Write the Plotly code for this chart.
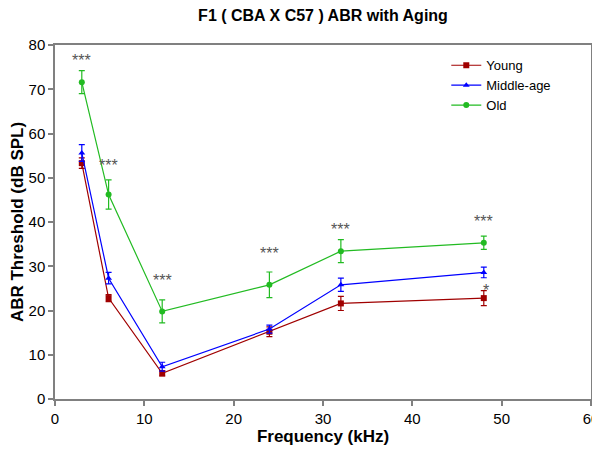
import plotly.graph_objects as go

freq = [3, 6, 12, 24, 32, 48]
young = [53.3, 22.8, 5.8, 15.2, 21.6, 22.8]
young_err = [1.2, 0.8, 0.6, 1.1, 1.6, 1.7]
middle = [55.6, 27.3, 7.3, 15.8, 25.8, 28.6]
middle_err = [1.9, 1.3, 1.0, 0.9, 1.5, 1.2]
old = [71.6, 46.2, 19.8, 25.8, 33.4, 35.3]
old_err = [2.6, 3.3, 2.6, 2.9, 2.6, 1.5]

sig_x = [3, 6, 12, 24, 32, 48, 48.3]
sig_y = [76.5, 52.8, 26.8, 32.9, 38.3, 40.1, 24.6]
sig_text = ["***", "***", "***", "***", "***", "***", "*"]

series = [
    ("Young", young, young_err, "#a00000", "square"),
    ("Middle-age", middle, middle_err, "#0000ff", "triangle-up"),
    ("Old", old, old_err, "#22bb22", "circle"),
]

# page body has an 8px default margin; size the figure so it fills the window
W, H = 592, 445

fig = go.Figure()
for name, ys, errs, color, sym in series:
    fig.add_trace(go.Scatter(
        x=freq, y=ys, name=name, mode="lines+markers",
        line=dict(color=color, width=1.2),
        marker=dict(symbol=sym, size=6, color=color),
        error_y=dict(type="data", array=errs, visible=True, color=color,
                     thickness=1.2, width=3),
    ))

for x, y, t in zip(sig_x, sig_y, sig_text):
    fig.add_annotation(x=x, y=y, text=t, showarrow=False,
                       font=dict(family="Arial, Liberation Sans", size=16, color="#555555"))

axis_common = dict(
    showline=True, linecolor="#808080", linewidth=1.5, mirror=True,
    ticks="outside", ticklen=5, tickcolor="#808080", tickwidth=1.5,
    showgrid=False, zeroline=False, automargin=False,
    tickfont=dict(family="Arial, Liberation Sans", size=15, color="black"),
)

fig.update_layout(
    width=W, height=H,
    paper_bgcolor="white", plot_bgcolor="white",
    margin=dict(l=47, r=9, t=37, b=54),
    title=dict(text="<b>F1 ( CBA X C57 ) ABR with Aging</b>",
               x=315 / W, xanchor="center", y=1 - 7 / H,
               yanchor="middle",
               font=dict(family="Arial, Liberation Sans", size=16, color="black")),
    xaxis=dict(range=[0, 60], tickvals=[0, 10, 20, 30, 40, 50, 60],
               title=dict(text="<b>Frequency (kHz)</b>", standoff=4,
                          font=dict(family="Arial, Liberation Sans", size=17, color="black")),
               **axis_common),
    yaxis=dict(range=[0, 80], tickvals=[0, 10, 20, 30, 40, 50, 60, 70, 80],
               title=dict(text="<b>ABR Threshold (dB SPL)</b>", standoff=4,
                          font=dict(family="Arial, Liberation Sans", size=17, color="black")),
               **axis_common),
    legend=dict(x=0.73, y=0.985, xanchor="left", yanchor="top",
                bgcolor="rgba(0,0,0,0)", borderwidth=0,
                font=dict(family="Arial, Liberation Sans", size=13, color="black"),
                itemwidth=30, tracegroupgap=2),
    showlegend=True,
)

fig.write_html("out.html")
